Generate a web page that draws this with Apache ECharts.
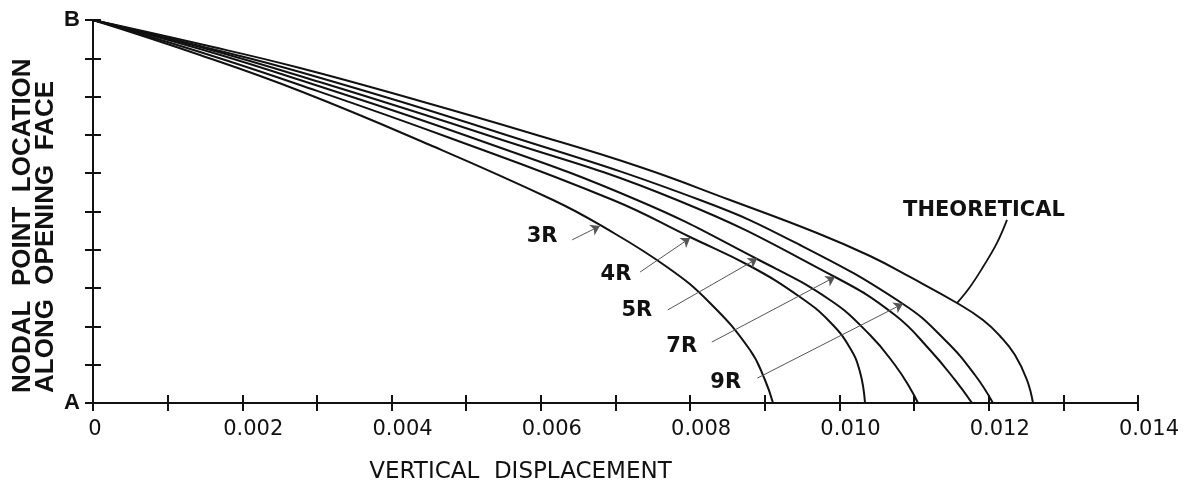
<!DOCTYPE html>
<html><head><meta charset="utf-8">
<script src="https://cdn.jsdelivr.net/npm/echarts@6/dist/echarts.min.js"></script>
<style>html,body{margin:0;padding:0;background:#fff}#c{width:1183px;height:490px}</style>
</head><body><div id="c"></div>
<script>
// curves: [vertical displacement, nodal point location (A=0 .. B=10)]
const curveNames = ['3R', '4R', '5R', '7R', '9R', 'THEORETICAL'];
const curve3R = [[0,10],[0.001433,9.086],[0.002773,8.146],[0.004515,6.736],[0.006163,5.300],[0.006792,4.648],[0.007690,3.551],[0.008266,2.611],[0.008802,1.384],[0.009003,0.601],[0.009110,0]];
const curve4R = [[0,10],[0.001433,9.164],[0.002773,8.303],[0.004783,6.919],[0.006966,5.300],[0.007998,4.334],[0.008802,3.577],[0.009472,2.768],[0.009874,2.115],[0.010142,1.436],[0.010276,0.809],[0.010343,0]];
const curve5R = [[0,10],[0.001433,9.243],[0.002773,8.433],[0.005051,6.945],[0.007288,5.300],[0.008896,3.760],[0.009874,2.689],[0.010410,1.775],[0.010744,0.992],[0.010945,0.392],[0.011053,0]];
const curve7R = [[0,10],[0.001433,9.295],[0.002773,8.538],[0.005319,6.971],[0.007824,5.300],[0.009941,3.290],[0.010744,2.298],[0.011213,1.384],[0.011548,0.601],[0.011776,0]];
const curve9R = [[0,10],[0.001433,9.321],[0.002773,8.642],[0.005453,7.050],[0.008132,5.300],[0.009472,4.125],[0.010852,2.585],[0.011414,1.645],[0.011816,0.731],[0.012057,0]];
const curveTheo = [[0,10],[0.001433,9.373],[0.002773,8.747],[0.004381,7.885],[0.005855,7.050],[0.007328,6.162],[0.008534,5.300],[0.009700,4.439],[0.010410,3.838],[0.010945,3.290],[0.011575,2.611],[0.011923,2.167],[0.012151,1.749],[0.012352,1.253],[0.012513,0.601],[0.012593,0]];
const curves = [curve3R, curve4R, curve5R, curve7R, curve9R, curveTheo];

// annotation labels and leaders
const labelNames = ['3R', '4R', '5R', '7R', '9R', 'THEORETICAL'];
const labelAt = [[0.00603,4.31],[0.00702,3.34],[0.00730,2.38],[0.00790,1.44],[0.00849,0.50],[0.01195,5.01]];
const leaderFrom = [[0.00642,4.26],[0.00733,3.42],[0.00770,2.43],[0.00829,1.59],[0.00890,0.65]];
const leaderTo = [[0.00679,4.62],[0.00800,4.31],[0.00890,3.77],[0.00994,3.29],[0.01085,2.59]];
const theoLeader = [[0.012245,4.78],[0.012111,4.18],[0.011923,3.55],[0.011749,3.03],[0.011575,2.61]];

const xMin = 0, xMax = 0.014, xStep = 0.002;
const yMin = 0, yMax = 10, yStep = 1;
const yTickLabels = {0: 'A', 10: 'B'};

const chart = echarts.init(document.getElementById('c'), null, {renderer: 'canvas'});
const ink = '#111';
const axisCommon = {
  axisLine: {show: true, lineStyle: {color: ink, width: 2}},
  axisTick: {show: true, inside: true, length: 8, lineStyle: {color: ink, width: 2}},
  splitLine: {show: false}
};
const series = curves.map((d, i) => ({
  type: 'line', name: curveNames[i], data: d, showSymbol: false, symbol: 'none',
  smooth: 0.45,
  lineStyle: {color: ink, width: 2}, z: 3
}));
series.push({
  type: 'scatter', data: labelAt.map((p, i) => ({value: p, name: labelNames[i]})),
  symbolSize: 2, itemStyle: {color: 'rgba(0,0,0,0)'},
  label: {show: true, position: [0, 0], align: 'center', verticalAlign: 'middle',
    formatter: '{b}', color: '#111', opacity: 1, textBorderWidth: 0,
    fontFamily: 'DejaVu Sans', fontWeight: 'bold', fontSize: 21},
  labelLayout: {hideOverlap: false},
  z: 5
});
series.push({
  type: 'lines', coordinateSystem: 'cartesian2d',
  data: leaderFrom.map((p, i) => ({coords: [p, leaderTo[i]]})),
  lineStyle: {color: '#555', width: 1, opacity: 1, curveness: 0},
  symbol: ['none', 'arrow'], symbolSize: 9, z: 4
});
series.push({
  type: 'line', data: theoLeader, showSymbol: false, symbol: 'none', smooth: 0.4,
  lineStyle: {color: ink, width: 1.8}, z: 4
});

chart.setOption({
  animation: false,
  backgroundColor: '#fff',
  grid: {left: 93, right: 45, top: 20, bottom: 87, containLabel: false},
  xAxis: [
    Object.assign({type: 'value', min: xMin, max: xMax, interval: xStep, position: 'bottom',
      minorTick: {show: true, splitNumber: 2, length: 8, lineStyle: {color: ink, width: 2}},
      axisLabel: {show: true, margin: 16, showMinLabel: true, showMaxLabel: true,
        formatter: v => v === 0 ? '{a|0}' : '{b|' + v.toFixed(3) + '}',
        rich: {a: {fontFamily: 'DejaVu Sans', fontSize: 21, color: ink, padding: [0,0,0,4]},
               b: {fontFamily: 'DejaVu Sans', fontSize: 21, color: ink, padding: [0,0,0,22]}}},
      name: 'VERTICAL  DISPLACEMENT', nameLocation: 'middle', nameGap: 58,
      nameTextStyle: {fontFamily: 'DejaVu Sans', fontSize: 23, color: ink, padding: [0, 190, 0, 0]}
    }, axisCommon),
    Object.assign({type: 'value', min: xMin, max: xMax, interval: xStep, position: 'top',
      minorTick: {show: true, splitNumber: 2, length: 8, lineStyle: {color: ink, width: 2}},
      axisLabel: {show: false}}, axisCommon)
  ],
  yAxis: [
    Object.assign({type: 'value', min: yMin, max: yMax, interval: yStep, position: 'left',
      axisLabel: {show: true, margin: 13, formatter: v => yTickLabels[v] || '',
        fontFamily: 'Liberation Sans', fontWeight: 'bold', fontSize: 22, color: ink}
    }, axisCommon),
    Object.assign({type: 'value', min: yMin, max: yMax, interval: yStep, position: 'right',
      axisLabel: {show: false}}, axisCommon)
  ],
  graphic: [{
    type: 'text', x: 11, y: 393, rotation: Math.PI / 2,
    style: {text: 'NODAL  POINT  LOCATION\nALONG  OPENING  FACE', fill: ink,
      font: 'bold 26px "Liberation Sans"', align: 'left', verticalAlign: 'top', lineHeight: 23}
  }],
  series: series
});
</script></body></html>
